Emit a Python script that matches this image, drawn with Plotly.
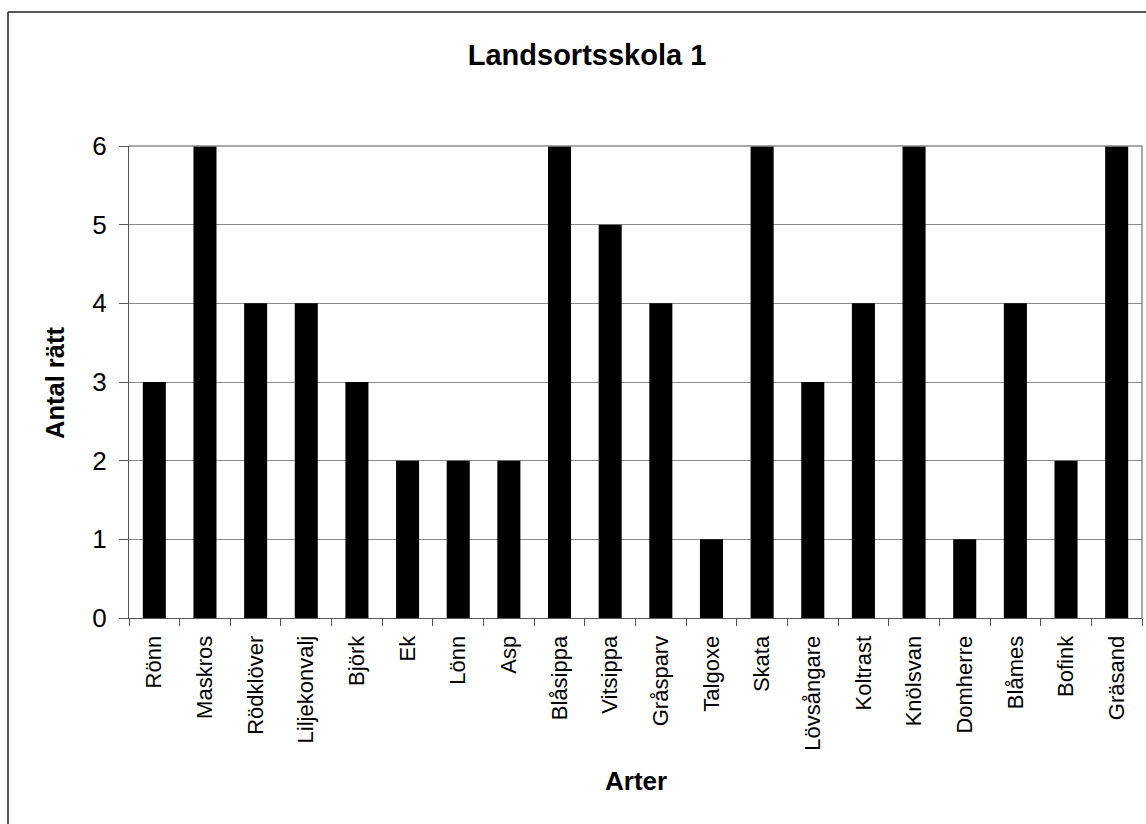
import plotly.graph_objects as go

# Species names (x categories) and number of correct answers
species = ["Rönn", "Maskros", "Rödklöver", "Liljekonvalj", "Björk", "Ek", "Lönn", "Asp",
           "Blåsippa", "Vitsippa", "Gråsparv", "Talgoxe", "Skata", "Lövsångare", "Koltrast",
           "Knölsvan", "Domherre", "Blåmes", "Bofink", "Gräsand"]
correct = [3, 6, 4, 4, 3, 2, 2, 2, 6, 5, 4, 1, 6, 3, 4, 6, 1, 4, 2, 6]
y_ticks = [0, 1, 2, 3, 4, 5, 6]

title_text = "Landsortsskola 1"
x_title = "Arter"
y_title = "Antal rätt"

W, H = 1146, 824
L, R, T, B = 129, 4, 146, 206
pw, ph = W - L - R, H - T - B

def px_x(px):
    return (px - L) / pw

def px_y(py):
    return (H - B - py) / ph

FONT = "Liberation Sans, Arial, sans-serif"

fig = go.Figure(go.Bar(
    x=species, y=correct,
    marker=dict(color="black", line=dict(width=0)),
))

fig.update_layout(
    width=W, height=H,
    margin=dict(l=L, r=R, t=T, b=B, pad=0),
    paper_bgcolor="white", plot_bgcolor="white",
    bargap=0.545,
    showlegend=False,
    font=dict(family=FONT, color="black"),
    title=dict(text="<b>%s</b>" % title_text, font=dict(size=29, family=FONT, color="black"),
               xref="container", x=587 / W, xanchor="center",
               yref="container", y=1 - 55 / H, yanchor="middle"),
)

fig.update_xaxes(
    type="category",
    tickangle=-90,
    tickfont=dict(size=22, family=FONT, color="black"),
    ticks="outside", tickson="boundaries", ticklen=7, tickcolor="#555", tickwidth=1,
    ticklabelstandoff=8,
    showline=True, linecolor="#555", linewidth=1,
    showgrid=False,
)

fig.update_yaxes(
    range=[0, 6],
    tickvals=y_ticks,
    tickfont=dict(size=26, family=FONT, color="black"),
    ticks="outside", ticklen=9, tickcolor="#555", tickwidth=1,
    ticklabelstandoff=7,
    showline=True, linecolor="#555", linewidth=1,
    showgrid=True, gridcolor="#8a8a8a", gridwidth=1,
    zeroline=False,
)

fig.add_annotation(text="<b>%s</b>" % y_title, xref="paper", yref="paper",
                   x=px_x(55), y=px_y(383), textangle=-90, showarrow=False,
                   xanchor="center", yanchor="middle",
                   font=dict(size=25.5, family=FONT, color="black"))
fig.add_annotation(text="<b>%s</b>" % x_title, xref="paper", yref="paper",
                   x=0.5, y=px_y(781), showarrow=False,
                   xanchor="center", yanchor="middle",
                   font=dict(size=26, family=FONT, color="black"))

# plot-area frame (top and right edges) in grey
fig.add_shape(type="line", xref="paper", yref="paper", x0=0, x1=1, y0=1, y1=1,
              line=dict(color="#8a8a8a", width=1.5))
fig.add_shape(type="line", xref="paper", yref="paper", x0=1, x1=1, y0=0, y1=1,
              line=dict(color="#8a8a8a", width=1.5))

# outer chart border (left and top edges)
fig.add_shape(type="line", xref="paper", yref="paper",
              x0=px_x(8), x1=px_x(8), y0=px_y(H + 5), y1=px_y(12),
              line=dict(color="#222", width=1.5))
fig.add_shape(type="line", xref="paper", yref="paper",
              x0=px_x(8), x1=px_x(W + 5), y0=px_y(12), y1=px_y(12),
              line=dict(color="#222", width=1.5))

fig.write_html("out.html")
